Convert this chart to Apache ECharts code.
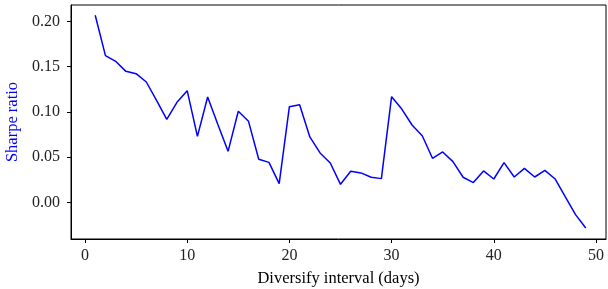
<!DOCTYPE html>
<html>
<head>
<meta charset="utf-8">
<script src="https://cdn.jsdelivr.net/npm/echarts@6/dist/echarts.min.js"></script>
<style>
html,body{margin:0;padding:0;background:#fff;}
#chart{width:608px;height:289px;}
</style>
</head>
<body>
<div id="chart"></div>
<script>
// diversify interval (days)
var intervals = [];
for (var d = 1; d <= 49; d++) intervals.push(d);
// sharpe ratio
var sharpe = [
    0.2069, 0.1623, 0.1560, 0.1449, 0.1423, 0.1331, 0.1128, 0.0918, 0.1106, 0.1235,
    0.0730, 0.1165, 0.0860, 0.0564, 0.1007, 0.0896, 0.0477, 0.0442, 0.0206, 0.1058,
    0.1080, 0.0723, 0.0546, 0.0435, 0.0199, 0.0343, 0.0325, 0.0277, 0.0262, 0.1169,
    0.1032, 0.0855, 0.0737, 0.0487, 0.0557, 0.0450, 0.0277, 0.0218, 0.0347, 0.0258,
    0.0439, 0.0280, 0.0376, 0.0280, 0.0354, 0.0258, 0.0059, -0.0136, -0.0284
];
var xTicks = [0, 10, 20, 30, 40, 50];
var yTicks = [0, 0.05, 0.10, 0.15, 0.20];

var chart = echarts.init(document.getElementById('chart'), null, {renderer: 'canvas'});
var font = 'Liberation Serif';
var points = intervals.map(function (x, i) { return [x, sharpe[i]]; });

var option = {
    animation: false,
    grid: {
        left: 71, right: 2, top: 5, bottom: 50,
        outerBoundsMode: 'none',
        containLabel: false,
        show: true, borderColor: '#000', borderWidth: 1, backgroundColor: 'transparent'
    },
    xAxis: {
        type: 'value',
        min: -1.37, max: 50.98,
        name: 'Diversify interval (days)',
        nameLocation: 'middle',
        nameGap: 31,
        nameTextStyle: {fontFamily: font, fontSize: 16.5, color: '#000'},
        axisLine: {show: true, onZero: false, lineStyle: {color: '#000', width: 1}},
        axisTick: {show: true, length: 4, customValues: xTicks, lineStyle: {color: '#000'}},
        axisLabel: {customValues: xTicks, fontFamily: font, fontSize: 16, color: '#222', margin: 9},
        splitLine: {show: false}
    },
    yAxis: {
        type: 'value',
        min: -0.0406, max: 0.2183,
        name: 'Sharpe ratio',
        nameLocation: 'middle',
        nameGap: 48,
        nameTextStyle: {fontFamily: font, fontSize: 16.5, color: '#0000ff'},
        axisLine: {show: true, onZero: false, lineStyle: {color: '#000', width: 1}},
        axisTick: {show: true, length: 4, customValues: yTicks, lineStyle: {color: '#000'}},
        axisLabel: {
            customValues: yTicks, fontFamily: font, fontSize: 16, color: '#222', margin: 11,
            formatter: function (v) { return v.toFixed(2); }
        },
        splitLine: {show: false}
    },
    series: [{
        type: 'line',
        data: points,
        showSymbol: false,
        lineStyle: {color: '#0000ff', width: 1.5},
        itemStyle: {color: '#0000ff'}
    }]
};
chart.setOption(option);
</script>
</body>
</html>
